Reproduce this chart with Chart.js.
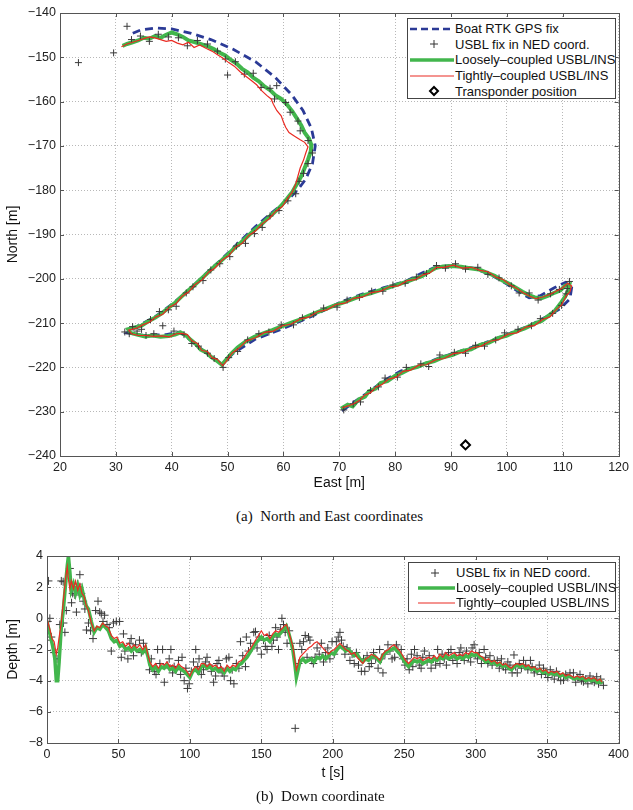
<!DOCTYPE html>
<html>
<head>
<meta charset="utf-8">
<script src="https://cdn.jsdelivr.net/npm/chart.js@4.4.1/dist/chart.umd.min.js"></script>
<style>
  body { margin: 0; background: #fff; width: 633px; height: 810px; position: relative; overflow: hidden; font-family: "Liberation Sans", Arial, sans-serif; }
  .box { position: absolute; }
  .legend { position: absolute; background: #fff; border: 1px solid #444; box-sizing: border-box; padding-top: 2px; }
  .legend .row { display: flex; align-items: center; height: 15.6px; font-size: 13px; color: #111; white-space: nowrap; }
  .legend svg { flex: none; width: 47px; height: 14px; }
  .caption { position: absolute; font-family: "Liberation Serif", "Times New Roman", serif; font-size: 15px; color: #111; white-space: nowrap; }
</style>
</head>
<body>
<div class="box" style="left:0;top:0"><canvas id="ne" width="633" height="500"></canvas></div>
<div class="box" style="left:0;top:530px"><canvas id="down" width="633" height="260"></canvas></div>

<div class="legend" style="left:407px;top:18px;width:209px;height:81px">
  <div class="row"><svg><line x1="2" y1="7" x2="46" y2="7" stroke="#2b3a96" stroke-width="2.6" stroke-dasharray="7,4"/></svg><span>Boat RTK GPS fix</span></div>
  <div class="row"><svg><path d="M22 7H30M26 3V11" stroke="#333" stroke-width="1"/></svg><span>USBL fix in NED coord.</span></div>
  <div class="row"><svg><line x1="2" y1="7" x2="46" y2="7" stroke="#42b64c" stroke-width="3.5"/></svg><span>Loosely&#8211;coupled USBL/INS</span></div>
  <div class="row"><svg><line x1="2" y1="7" x2="46" y2="7" stroke="#ea2a22" stroke-width="1.2"/></svg><span>Tightly&#8211;coupled USBL/INS</span></div>
  <div class="row"><svg><path d="M26 3L30 7L26 11L22 7Z" fill="#fff" stroke="#000" stroke-width="2"/></svg><span>Transponder position</span></div>
</div>

<div class="legend" style="left:408px;top:562px;width:208px;height:50px">
  <div class="row" style="height:15px"><svg><path d="M22 7H30M26 3V11" stroke="#333" stroke-width="1"/></svg><span>USBL fix in NED coord.</span></div>
  <div class="row" style="height:15px"><svg><line x1="9" y1="7" x2="46" y2="7" stroke="#42b64c" stroke-width="3.5"/></svg><span>Loosely&#8211;coupled USBL/INS</span></div>
  <div class="row" style="height:15px"><svg><line x1="9" y1="7" x2="46" y2="7" stroke="#ea2a22" stroke-width="1.2"/></svg><span>Tightly&#8211;coupled USBL/INS</span></div>
</div>

<div class="caption" style="left:236px;top:508px">(a)&nbsp; North and East coordinates</div>
<div class="caption" style="left:256px;top:788px">(b)&nbsp; Down coordinate</div>

<script>
// ---- (a) North / East, values as [east, north] ----
const gpsTrack = [
  [70.5,-229.8],[73,-227.5],[75,-225.8],[78,-223],[81,-220.8],[84,-219.8],[88,-217.8],[92,-216.2],[96,-214.5],
  [100,-212.6],[104,-210.6],[107,-208.6],[109.5,-206.8],[111.3,-204.5],[111.6,-202],[110.5,-200.8],[108.5,-202],
  [106,-203.8],[104,-204.3],[102,-202.8],[100,-201.2],[97,-199],[94,-197.6],[90,-197],[87,-197.5],[85,-198.6],
  [82,-200.5],[78,-202],[74,-203.5],[70,-205.4],[65,-208.5],[60,-211.2],[55,-213.6],[51,-216.8],[49,-219.4],
  [47,-217.6],[45,-215.5],[43,-213.5],[41.5,-212],[39,-212.6],[35,-212.8],[32,-212.2],[34,-210.6],[37,-208.6],
  [40,-205.8],[43,-202.6],[46,-199],[49,-195.5],[52,-191.8],[55,-188.2],[58,-185],[60.5,-182.5],[62.5,-180],
  [64,-177.5],[65.2,-174],[65.7,-170],[65,-166],[63.5,-162],[61.5,-158.5],[58.5,-154.5],[55,-151],[51,-148.2],
  [47,-146],[43.5,-144.6],[40,-143.6],[37,-143.4],[34.5,-143.8],[33,-144.6]
];

const looseTrack = [
  [70.3,-229.3],[71.5,-228.4],[72.4,-228.8],[73.5,-227.2],[74.6,-226.6],[75.3,-225.4],[76.5,-224.8],[77.4,-223.5],
  [78.6,-223.1],[80,-221.9],[81.3,-221.2],[82.5,-220.4],[84,-219.9],[85.5,-219.1],[87,-218.6],[88.6,-217.7],
  [90.2,-217.2],[92,-216.3],[93.6,-215.9],[95.2,-214.9],[96.8,-214.4],[98.4,-213.4],[100,-212.8],[101.6,-211.9],
  [103.2,-211.2],[104.8,-210.2],[106.2,-209.5],[107.5,-208.3],[108.6,-207.2],[109.6,-205.6],[110.4,-204.1],
  [111,-202.6],[111.2,-201.3],[110.4,-201.6],[109.6,-202.6],[108.6,-203.1],[107.4,-203.8],[106.2,-204.4],
  [105,-204.2],[103.8,-203.6],[102.8,-202.9],[101.6,-202],[100.4,-201.1],[99.2,-200.4],[97.8,-199.3],[96.4,-198.6],
  [95,-197.9],[93.4,-197.6],[91.8,-197.3],[90.2,-197.1],[88.6,-197.2],[87.2,-197.6],[86,-198.4],[84.8,-199.4],
  [83.4,-200],[82,-200.7],[80.4,-201.3],[78.8,-202],[77.2,-202.6],[75.6,-203.3],[74,-203.8],[72.4,-204.6],
  [70.8,-205.3],[69.2,-206],[67.6,-206.8],[66,-207.6],[64.4,-208.4],[62.8,-209.3],[61.2,-210],[59.6,-210.8],
  [58,-211.6],[56.4,-212.3],[54.8,-213.1],[53.2,-214.2],[51.8,-215.5],[50.6,-217],[49.4,-218.8],[49,-219.4],
  [48,-218.4],[47,-217.6],[46.2,-216.6],[45.2,-216],[44.4,-214.8],[43.4,-213.8],[42.6,-212.8],[41.6,-212.1],
  [40.6,-212.6],[39.4,-212.9],[38,-213.1],[36.6,-212.8],[35.2,-213],[33.8,-212.6],[32.6,-212.2],[32.2,-211.4],
  [33.4,-211],[34.6,-210.6],[35.8,-209.6],[37,-208.8],[38.2,-207.8],[39.4,-206.6],[40.6,-205.4],[41.6,-204.2],
  [42.8,-202.8],[44,-201.5],[45.2,-200.1],[46.4,-198.7],[47.6,-197.3],[48.8,-196],[50,-194.6],[51.2,-193.1],
  [52.4,-191.8],[53.6,-190.4],[54.8,-189],[56,-187.8],[57.2,-186.3],[58.4,-185],[59.6,-183.5],[60.6,-182],
  [61.6,-180.4],[62.4,-178.6],[63.2,-176.8],[63.8,-175],[64.4,-173.1],[64.9,-171.2],[65,-169.8],[64.6,-168.4],
  [63.8,-167],[63.2,-165.4],[62.4,-163.8],[61.6,-162.2],[60.6,-160.6],[59.6,-159.4],[58.6,-158.6],[57.6,-157.4],
  [56.6,-156.6],[55.6,-155.4],[54.6,-154.6],[53.6,-153.4],[52.6,-152.6],[51.6,-151.4],[50.6,-150.6],[49.6,-149.6],
  [48.6,-149],[47.6,-148.2],[46.6,-147.6],[45.4,-147.1],[44.2,-146.6],[43,-146.2],[42,-145.4],[41,-144.8],
  [40,-144.4],[39,-144.9],[38,-145.6],[37,-145.2],[36,-145.8],[35,-145.6],[34,-146.2],[33,-146.6],[32,-147],[31.2,-147.4]
];

const tightTrack = [
  [70.5,-229.1],[71.6,-228.7],[72.6,-228.2],[73.6,-227.5],[74.5,-226.3],[75.6,-225.7],[76.6,-224.4],[77.6,-223.9],
  [78.8,-222.7],[80.2,-222.2],[81.4,-220.9],[82.8,-220.6],[84.2,-219.5],[85.6,-219.4],[87.2,-218.3],[88.8,-218],
  [90.4,-216.9],[92.2,-216.6],[93.8,-215.6],[95.4,-215.2],[97,-214.1],[98.6,-213.7],[100.2,-212.5],[101.8,-212.2],
  [103.4,-210.9],[105,-210.5],[106.4,-209.2],[107.7,-208.6],[108.8,-207],[109.8,-205.9],[110.6,-203.9],[111.3,-202.9],
  [111.6,-201.6],[110.9,-201],[109.8,-202.2],[108.8,-202.8],[107.6,-203.6],[106.4,-204.1],[105.2,-204.5],[104,-203.9],
  [103,-203.2],[101.8,-202.2],[100.6,-201.4],[99.4,-200.2],[98,-199.6],[96.6,-198.4],[95.2,-198.1],[93.6,-197.4],
  [92,-197.6],[90.4,-196.9],[88.8,-197.4],[87.4,-197.4],[86.2,-198.7],[85,-199.1],[83.6,-200.2],[82.2,-200.4],
  [80.6,-201.6],[79,-201.8],[77.4,-202.8],[75.8,-203.1],[74.2,-204.1],[72.6,-204.4],[71,-205.5],[69.4,-205.8],
  [67.8,-207],[66.2,-207.4],[64.6,-208.6],[63,-209.1],[61.4,-210.2],[59.8,-210.6],[58.2,-211.8],[56.6,-212.1],
  [55,-213.3],[53.4,-214],[52,-215.7],[50.8,-216.8],[49.6,-218.9],[49.1,-219.6],[48.2,-218.2],[47.2,-217.8],
  [46.4,-216.4],[45.4,-216.2],[44.6,-214.6],[43.6,-214],[42.8,-212.6],[41.8,-212.3],[40.8,-212.4],[39.6,-213.1],
  [38.2,-212.9],[36.8,-213],[35.4,-212.8],[34,-212.8],[32.8,-212.4],[32.3,-211.6],[33.6,-211.2],[34.8,-210.4],
  [36,-209.8],[37.2,-208.6],[38.4,-208],[39.6,-206.4],[40.8,-205.6],[41.8,-204],[43,-203],[44.2,-201.3],
  [45.4,-200.3],[46.6,-198.5],[47.8,-197.5],[49,-195.8],[50.2,-194.8],[51.4,-192.9],[52.6,-192],[53.8,-190.2],
  [55,-189.2],[56.2,-187.6],[57.4,-186.5],[58.6,-184.8],[59.8,-183.7],[60.8,-181.8],[61.6,-180.4],[62.2,-178.6],
  [62.6,-176.8],[63,-175],[63.6,-173.2],[64,-171.6],[64.4,-170.2],[63.8,-169.2],[63,-168.6],[62,-167.8],
  [61,-167],[60.4,-165.8],[60,-164.6],[59.6,-163.2],[58.8,-162],[58.2,-160.6],[57.8,-159.4],[57,-158.6],
  [56,-157.4],[55.2,-156.2],[54.2,-155.2],[53.2,-154.2],[52.2,-153.2],[51.2,-152],[50.2,-151.2],[49.2,-150.2],
  [48.2,-149.4],[47.2,-148.6],[46.2,-148],[45,-147.2],[44,-147.8],[43,-146.6],[42,-147.2],[41,-146.8],
  [40,-146.2],[39,-146.4],[38,-146],[37,-145.6],[36,-145.4],[35,-145.8],[34,-146.2],[33,-146.6],[32,-147],[31,-147.6]
];

const usblNE = [
  [70.8,-229.6],[72.5,-228.2],[73.8,-227.8],[75.6,-225.2],[77,-224.4],[78.2,-222.4],[80.4,-222.2],[82,-220],
  [84.6,-219.2],[86,-219.8],[88,-217.2],[90.6,-216.6],[92.6,-216.8],[94.4,-215],[96,-215.2],[98,-213.8],
  [99.6,-212.2],[102,-211.4],[104.4,-210.6],[106,-209],[108.2,-207.8],[109.8,-206],[110.6,-203.4],[111.2,-200.6],
  [110.8,-202.2],[109.4,-202.4],[107.8,-203.4],[105.6,-204.8],[104,-203.2],[102.2,-203.2],[100.8,-201.6],
  [98.6,-199.8],[96.6,-199],[94.8,-197.4],[92.6,-197.8],[90.8,-196.6],[89,-197.6],[87.4,-197],[85.6,-198.8],
  [83.8,-199.6],[81.8,-201],[79.6,-201.4],[77.8,-202.8],[75.8,-202.8],[73.6,-204.2],[71.4,-204.8],[69.6,-206.4],
  [67.2,-206.6],[65.4,-208],[63.4,-208.8],[61.8,-210.4],[59.6,-210.4],[57.4,-212],[55.6,-212.4],[53.6,-213.8],
  [51.8,-216.4],[50.2,-217.8],[49.2,-220],[47.6,-218],[46.4,-216.8],[44.8,-215.2],[43.6,-214.6],[42.2,-212.6],
  [40.4,-211.8],[38.4,-210.6],[36.8,-212.4],[35.4,-212.8],[33.8,-211.8],[32.4,-212.4],[31.6,-212],[33,-210.8],
  [34.6,-211.4],[36.2,-209.2],[37.8,-207.4],[39.4,-207],[40.8,-206.2],[42.6,-203.2],[43.8,-201.8],[45.6,-200.4],
  [47,-198],[48.6,-196.6],[50.4,-195],[51.6,-192.6],[53.2,-192],[54.8,-189.8],[56.2,-188.4],[57.6,-185.8],
  [59.2,-184.6],[60.8,-182.4],[62.2,-180.8],[62.8,-178],[63.6,-176.2],[64.4,-174],[65.2,-171.6],[64.4,-168.8],
  [63,-166.6],[62.6,-164.4],[61.2,-162.4],[60.4,-160.2],[58.4,-159.4],[57.6,-157],[58.8,-156.4],[56,-156.8],
  [54.6,-153.6],[53,-153.8],[50,-154],[51.4,-151],[49.6,-150.4],[48.2,-148.6],[46.4,-147],[44.6,-146.2],
  [42.8,-147.4],[41.2,-145.6],[39.4,-145.4],[37.6,-144.8],[36,-146.4],[34.4,-145.2],[32.8,-146],
  [32,-143],[29.6,-149],[23.3,-151.2]
];

const transponder = [[92.6,-237.5]];

// ---- (b) Down, values as [t, depth] ----
const usblDown = [
  [0,-1.4],[0.5,-0.2],[1,2.4],[2,0.0],[3,-1.2],[5,-2.2],[7,-2.6],[9,-0.4],[10,2.4],[11.3,2.35],[11.5,-0.3],
  [12.5,-0.9],[13.5,0.5],[14.8,4.0],[16,3.2],[17.2,1.0],[18,1.6],[19.5,1.5],[20.6,0.4],[21.5,2.2],[23,2.8],
  [24,1.6],[25.3,1.1],[26.5,0.6],[27.6,-0.75],[29,-0.3],[30.5,-0.8],[32.2,-1.3],[34,0.5],[35.7,1.1],[36.9,0.4],
  [38,0.3],[39.2,-0.2],[40.3,0.2],[42,-0.4],[43.5,-0.6],[45,-2.1],[46.5,-0.3],[48.5,-0.2],[50.8,-0.2],[52,-2.5],
  [53.5,-1.0],[54.5,-2.1],[56.6,-2.6],[58,-1.6],[58.9,-1.3],[60.5,-2.4],[62,-1.7],[64.7,-1.4],[66,-2.2],[67.5,-1.6],
  [69.4,-2.0],[71.7,-3.3],[73,-2.6],[75.1,-3.4],[76.3,-3.6],[77.4,-2.0],[79,-2.9],[80.9,-2.0],[82.1,-4.1],[84,-3.0],
  [85.5,-2.6],[86.7,-2.0],[87.9,-3.5],[89,-3.1],[90.2,-3.3],[92,-2.7],[93.5,-3.6],[94.5,-2.5],[96,-4.0],[97.2,-3.2],
  [98.3,-4.5],[99.5,-4.2],[101,-3.4],[102.5,-2.8],[104.1,-2.0],[105.5,-3.1],[106.4,-2.6],[108,-3.6],[109.5,-3.3],
  [111,-2.8],[112,-2.5],[113.5,-3.0],[115,-3.4],[116.6,-4.1],[118,-3.7],[119,-2.9],[120.3,-2.7],[121.5,-3.2],
  [122.6,-3.5],[124,-3.7],[125.5,-2.6],[127.3,-2.5],[128.5,-4.0],[129.6,-3.3],[130.8,-4.2],[132.5,-2.9],[134.3,-3.2],
  [135.4,-1.5],[137,-2.4],[138.9,-3.1],[139.5,-1.2],[141,-2.1],[142.5,-1.6],[144.7,-0.9],[145.9,-0.85],[147,-1.9],
  [148.5,-1.2],[150,-2.3],[151.5,-1.4],[152.8,-1.8],[154,-2.0],[155.5,-1.1],[157.4,-1.8],[158.5,-1.4],[160,-0.6],
  [161,-1.2],[162,-2.0],[163.5,-0.7],[164.4,0.0],[165.5,-0.4],[166.7,-0.9],[168,-1.6],[169.5,-0.8],[171,-1.6],
  [172.5,-2.0],[173.7,-7.06],[176,-2.9],[177,-1.6],[178.3,-2.0],[179.5,-1.5],[180.7,-1.1],[182,-2.5],[183,-1.2],
  [184,-1.4],[185.3,-2.7],[186.4,-2.9],[187.6,-2.5],[189,-1.9],[190.5,-2.3],[192,-1.6],[193.5,-2.8],[195,-2.2],
  [196.5,-1.9],[198,-2.6],[199.5,-1.5],[201,-2.3],[202.5,-1.5],[203.8,-1.2],[205,-0.9],[206.1,-1.4],[207.3,-1.8],
  [208.5,-2.3],[210,-1.9],[212,-2.7],[213.5,-2.3],[215,-2.9],[216.5,-2.2],[218,-3.0],[220,-3.4],[221.5,-2.6],
  [222.4,-3.4],[224,-2.4],[225.5,-3.1],[227,-2.9],[228.5,-2.2],[230,-2.6],[231.7,-3.2],[232.8,-2.0],[234,-2.6],
  [235.1,-3.5],[236.5,-2.3],[238.6,-1.7],[240,-2.1],[241.5,-2.6],[243.3,-2.5],[244.5,-1.7],[245.6,-2.0],[247.9,-2.0],
  [249,-2.6],[250.5,-3.0],[252,-2.6],[253.5,-3.3],[255,-2.3],[256,-3.1],[257.2,-2.0],[259,-2.4],[260.5,-3.0],
  [261.8,-3.2],[263,-2.5],[264.1,-2.1],[266,-2.8],[267.5,-2.4],[268.8,-3.2],[270.5,-2.6],[272,-3.0],[273.4,-2.0],
  [275,-2.9],[276.5,-2.3],[278,-2.6],[279.5,-3.0],[281,-2.2],[282.7,-2.0],[284,-2.7],[285.5,-2.4],[287,-2.9],
  [288.5,-2.2],[289.6,-1.9],[291,-2.4],[292,-2.7],[293.5,-2.1],[295,-2.5],[296.5,-2.8],[297.5,-1.9],[298.9,-1.7],
  [300,-2.3],[301.2,-2.6],[302.5,-2.2],[304,-2.9],[305.9,-2.0],[307,-2.5],[308.5,-2.9],[310,-2.4],[311.5,-3.0],
  [313,-2.7],[315.1,-2.7],[316.5,-3.2],[318,-2.6],[319.5,-3.1],[321,-3.3],[322.5,-2.8],[324,-3.0],[325.5,-3.5],
  [326.8,-2.35],[328,-3.1],[329.1,-3.5],[330.5,-2.9],[332,-3.2],[333.5,-2.7],[335,-3.0],[336.5,-3.3],[338.3,-2.7],
  [339.5,-3.1],[341,-3.5],[343,-3.4],[344.5,-3.0],[346,-3.6],[347.5,-3.2],[349,-3.5],[350.5,-3.8],[352.2,-3.3],
  [353.5,-3.6],[355,-3.9],[356.5,-3.4],[358,-3.7],[359.5,-4.0],[361.5,-3.96],[363,-3.6],[364.5,-3.8],[366,-3.5],
  [368.4,-3.5],[370,-4.1],[371.5,-3.8],[373,-3.6],[374,-4.0],[375.4,-4.07],[377,-3.9],[378.5,-4.2],[380,-3.7],
  [381.5,-4.0],[383,-4.1],[384.7,-3.75],[386,-4.2],[387.5,-3.9],[389.4,-4.3]
];

const looseDown = [
  [0,-0.2],[2,-1.0],[4,-1.8],[5.5,-2.6],[6.5,-4.0],[7.5,-4.0],[8.5,-2.8],[10,-0.6],[11.5,0.6],[13,2.2],[14.2,3.4],
  [15,4.0],[16,3.0],[17,1.8],[18.5,2.2],[20,1.6],[21.5,2.1],[23,1.5],[24.5,1.9],[26,1.3],[27.5,0.8],[29,0.6],
  [31,-0.2],[33,-0.9],[35,-0.6],[37,-0.7],[39,-0.4],[41,-0.6],[43,-0.8],[45,-1.3],[47,-1.5],[49,-1.4],[51,-1.8],
  [53,-1.7],[55,-2.0],[57,-1.9],[59,-2.1],[61,-1.9],[63,-2.1],[65,-2.0],[67,-2.2],[69,-1.9],[70.5,-2.4],[72,-3.0],
  [74,-3.3],[76,-3.1],[78,-3.4],[80,-3.1],[82,-3.2],[84,-3.0],[86,-3.3],[88,-3.2],[90,-3.4],[92,-3.1],[94,-3.3],
  [96,-3.4],[98,-3.6],[100,-3.8],[102,-3.4],[104,-3.3],[106,-3.5],[108,-3.1],[110,-3.0],[112,-3.2],[114,-3.1],
  [116,-3.3],[118,-3.2],[120,-3.4],[122,-3.3],[124,-3.5],[126,-3.2],[128,-3.4],[130,-3.2],[132,-3.3],[134,-3.0],
  [136,-2.9],[138,-2.7],[140,-2.5],[142,-2.2],[144,-1.9],[146,-1.6],[148,-1.4],[150,-1.2],[152,-1.4],[154,-1.3],
  [156,-1.5],[158,-1.2],[160,-1.0],[162,-1.1],[164,-0.9],[166,-0.7],[167.5,-0.5],[169,-0.9],[170.5,-1.4],[172,-2.0],
  [173.5,-3.0],[174.5,-3.8],[175.5,-3.4],[177,-2.8],[179,-2.6],[181,-2.8],[183,-2.7],[185,-2.6],[187,-2.8],[189,-2.5],
  [191,-2.6],[193,-2.4],[195,-2.6],[197,-2.4],[199,-2.2],[201,-2.3],[203,-2.0],[205,-1.8],[207,-1.9],[209,-2.1],
  [211,-2.0],[213,-2.2],[215,-2.4],[217,-2.3],[219,-2.6],[221,-2.8],[223,-2.6],[225,-2.7],[227,-2.5],[229,-2.4],
  [231,-2.6],[233,-2.8],[235,-2.4],[237,-2.2],[239,-2.1],[241,-2.0],[243,-1.9],[245,-2.1],[247,-2.3],[249,-2.6],
  [251,-2.9],[253,-3.1],[255,-2.9],[257,-2.7],[259,-2.8],[261,-2.7],[263,-2.9],[265,-2.8],[267,-2.7],[269,-2.8],
  [271,-2.6],[273,-2.7],[275,-2.5],[277,-2.6],[279,-2.4],[281,-2.6],[283,-2.5],[285,-2.4],[287,-2.6],[289,-2.5],
  [291,-2.6],[293,-2.4],[295,-2.5],[297,-2.3],[299,-2.4],[301,-2.3],[303,-2.5],[305,-2.6],[307,-2.8],[309,-2.7],
  [311,-2.9],[313,-2.8],[315,-3.0],[317,-2.9],[319,-3.1],[321,-3.0],[323,-3.2],[325,-3.3],[327,-3.1],[329,-3.0],
  [331,-3.1],[333,-3.0],[335,-3.2],[337,-3.1],[339,-3.3],[341,-3.2],[343,-3.4],[345,-3.3],[347,-3.5],[349,-3.4],
  [351,-3.6],[353,-3.5],[355,-3.6],[357,-3.5],[359,-3.7],[361,-3.6],[363,-3.8],[365,-3.7],[367,-3.8],[369,-3.9],
  [371,-3.8],[373,-3.9],[375,-3.8],[377,-4.0],[379,-3.9],[381,-4.0],[383,-3.9],[385,-4.1],[387,-4.0],[388.5,-4.2]
];

const tightDown = [
  [0,0.0],[2,-0.7],[3.5,-1.3],[5,-1.5],[6.5,-2.3],[7.5,-1.9],[8.5,-1.2],[10,-0.3],[11.5,1.2],[13,2.6],[14.2,3.3],
  [15,2.5],[16,1.9],[17,2.4],[18.5,1.9],[20,2.4],[21.5,1.8],[23,2.2],[24.5,1.6],[26,1.4],[27.5,0.8],[29,0.5],
  [31,-0.3],[33,-0.8],[35,-0.5],[37,-0.6],[39,-0.3],[41,-0.5],[43,-0.6],[45,-1.1],[47,-1.3],[49,-1.2],[51,-1.6],
  [53,-1.5],[55,-1.8],[57,-1.6],[59,-1.9],[61,-1.7],[63,-1.9],[65,-1.7],[67,-2.0],[69,-1.7],[70.5,-2.3],[72,-2.8],
  [74,-3.1],[76,-2.9],[78,-3.2],[80,-2.9],[82,-3.0],[84,-2.8],[86,-3.1],[88,-3.0],[90,-3.2],[92,-2.9],[94,-3.1],
  [96,-3.2],[98,-3.4],[100,-3.7],[102,-3.3],[104,-3.1],[106,-3.3],[108,-2.9],[110,-2.9],[112,-3.1],[114,-2.9],
  [116,-3.1],[118,-3.0],[120,-3.2],[122,-3.1],[124,-3.4],[126,-3.0],[128,-3.2],[130,-3.0],[132,-3.1],[134,-2.8],
  [136,-2.7],[138,-2.5],[140,-2.2],[142,-2.0],[144,-1.7],[146,-1.4],[148,-1.1],[150,-0.8],[152,-1.1],[154,-1.0],
  [156,-1.3],[158,-1.0],[160,-0.8],[162,-0.9],[164,-0.7],[166,-0.5],[167.5,-0.4],[169,-0.8],[170.5,-1.3],[172,-1.8],
  [173.5,-2.7],[174.5,-3.3],[175.5,-3.0],[177,-2.5],[179,-2.3],[181,-2.1],[183,-1.9],[185,-1.8],[187,-1.6],[189,-1.5],
  [191,-1.7],[193,-1.9],[195,-2.1],[197,-2.3],[199,-2.1],[201,-2.0],[203,-1.8],[205,-1.6],[207,-1.8],[209,-2.0],
  [211,-2.1],[213,-2.3],[215,-2.2],[217,-2.5],[219,-2.7],[221,-2.9],[223,-2.6],[225,-2.5],[227,-2.3],[229,-2.4],
  [231,-2.5],[233,-2.7],[235,-2.3],[237,-2.1],[239,-2.0],[241,-1.8],[243,-1.7],[245,-1.9],[247,-2.1],[249,-2.4],
  [251,-2.7],[253,-2.9],[255,-2.7],[257,-2.5],[259,-2.6],[261,-2.5],[263,-2.7],[265,-2.6],[267,-2.5],[269,-2.6],
  [271,-2.4],[273,-2.6],[275,-2.3],[277,-2.5],[279,-2.2],[281,-2.4],[283,-2.3],[285,-2.2],[287,-2.4],[289,-2.3],
  [291,-2.4],[293,-2.2],[295,-2.3],[297,-2.1],[299,-2.2],[301,-2.2],[303,-2.4],[305,-2.5],[307,-2.7],[309,-2.6],
  [311,-2.8],[313,-2.7],[315,-2.9],[317,-2.8],[319,-3.0],[321,-2.9],[323,-3.1],[325,-3.2],[327,-3.0],[329,-2.9],
  [331,-3.0],[333,-2.9],[335,-3.1],[337,-3.0],[339,-3.2],[341,-3.1],[343,-3.3],[345,-3.2],[347,-3.4],[349,-3.3],
  [351,-3.5],[353,-3.4],[355,-3.5],[357,-3.4],[359,-3.6],[361,-3.5],[363,-3.7],[365,-3.6],[367,-3.7],[369,-3.8],
  [371,-3.7],[373,-3.8],[375,-3.7],[377,-3.9],[379,-3.8],[381,-3.9],[383,-3.8],[385,-4.0],[387,-3.9],[388.5,-4.1]
];

const BLUE = '#2b3a96', GREEN = '#42b64c', RED = '#ea2a22', MARK = '#3a3a3a';
const pts = arr => arr.map(([x, y]) => ({ x, y }));
const minus = v => String(v).replace('-', '\u2212');

// frame round the plot area with inward tick marks, matlab style
const frame = {
  id: 'frame',
  afterDatasetsDraw(chart) {
    const { ctx, chartArea: a, scales: { x, y } } = chart;
    ctx.save();
    ctx.strokeStyle = '#555';
    ctx.lineWidth = 1;
    ctx.beginPath();
    x.ticks.forEach(t => {
      const p = Math.round(x.getPixelForValue(t.value)) + 0.5;
      ctx.moveTo(p, a.bottom); ctx.lineTo(p, a.bottom - 4);
      ctx.moveTo(p, a.top); ctx.lineTo(p, a.top + 4);
    });
    y.ticks.forEach(t => {
      const p = Math.round(y.getPixelForValue(t.value)) + 0.5;
      ctx.moveTo(a.left, p); ctx.lineTo(a.left + 4, p);
      ctx.moveTo(a.right, p); ctx.lineTo(a.right - 4, p);
    });
    ctx.stroke();
    ctx.strokeRect(Math.round(a.left) + 0.5, Math.round(a.top) + 0.5,
      Math.round(a.right - a.left), Math.round(a.bottom - a.top));
    ctx.restore();
  }
};

function axis(min, max, step, title, size, vertical) {
  return {
    type: 'linear', min, max,
    ticks: { stepSize: step, color: '#222', font: { family: 'Liberation Sans', size: 12.5 },
             padding: 4, callback: minus },
    grid: { color: '#b8b8b8', lineWidth: 1, drawTicks: false },
    border: { display: false, dash: [1, 2] },
    title: { display: true, text: title, color: '#111', font: { family: 'Liberation Sans', size: 14 },
             padding: { top: 0, bottom: vertical ? 0 : 4 } },
    afterFit(s) { if (vertical) s.width = size; else s.height = size; }
  };
}

const lineSet = (label, data, color, width, order, dash) => ({
  label, data: pts(data), showLine: true, borderColor: color, borderWidth: width,
  borderDash: dash || [], pointRadius: 0, order, tension: 0
});

const common = {
  responsive: false, animation: false, events: [],
  plugins: { legend: { display: false }, tooltip: { enabled: false } }
};

new Chart(document.getElementById('ne'), {
  type: 'scatter',
  data: {
    datasets: [
      lineSet('Tightly-coupled USBL/INS', tightTrack, RED, 1.2, 0),
      lineSet('Loosely-coupled USBL/INS', looseTrack, GREEN, 4, 2),
      { label: 'USBL fix in NED coord.', data: pts(usblNE), pointStyle: 'cross', pointRadius: 3.5,
        borderColor: MARK, borderWidth: 1, order: 1 },
      lineSet('Boat RTK GPS fix', gpsTrack, BLUE, 2.8, 3, [8, 5]),
      { label: 'Transponder position', data: pts(transponder), pointStyle: 'rectRot', pointRadius: 4.5,
        borderColor: '#000', backgroundColor: '#fff', borderWidth: 2, order: 0 }
    ]
  },
  options: {
    ...common,
    layout: { padding: { left: 5, right: 11, top: 13, bottom: 4 } },
    scales: {
      x: axis(20, 120, 10, 'East [m]', 40, false),
      y: axis(-240, -140, 10, 'North [m]', 55, true)
    }
  },
  plugins: [frame]
});

new Chart(document.getElementById('down'), {
  type: 'scatter',
  data: {
    datasets: [
      lineSet('Tightly-coupled USBL/INS', tightDown, RED, 1.2, 0),
      lineSet('Loosely-coupled USBL/INS', looseDown, GREEN, 3.5, 1),
      { label: 'USBL fix in NED coord.', data: pts(usblDown), pointStyle: 'cross', pointRadius: 4,
        borderColor: MARK, borderWidth: 1, order: 2 }
    ]
  },
  options: {
    ...common,
    layout: { padding: { left: 5, right: 11, top: 26, bottom: 4 } },
    scales: {
      x: axis(0, 400, 50, 't [s]', 43, false),
      y: axis(-8, 4, 2, 'Depth [m]', 42, true)
    }
  },
  plugins: [frame]
});
</script>
</body>
</html>
